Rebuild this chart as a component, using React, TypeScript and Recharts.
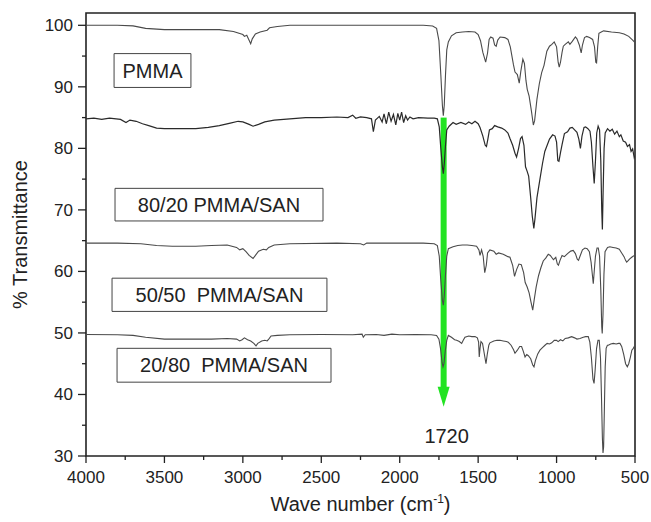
import { LineChart, Line, XAxis, YAxis, ReferenceArea, ReferenceLine } from "recharts";

const FONT = '"Liberation Sans", Arial, Helvetica, sans-serif';
const INK = "#222";

// wavenumber (cm-1) / % transmittance
const pmmaWave = [4000, 3800, 3700, 3620, 3500, 3300, 3150, 3060, 3000, 2990, 2975, 2950, 2940, 2920, 2890, 2845, 2830, 2780, 2700, 2300, 2000, 1850, 1790, 1765, 1750, 1738, 1728, 1722, 1716, 1708, 1700, 1690, 1670, 1640, 1600, 1560, 1520, 1500, 1485, 1470, 1452, 1440, 1430, 1420, 1405, 1395, 1385, 1375, 1360, 1330, 1310, 1295, 1275, 1265, 1250, 1238, 1228, 1215, 1205, 1195, 1187, 1175, 1160, 1148, 1140, 1125, 1110, 1095, 1080, 1062, 1045, 1030, 1015, 1000, 990, 983, 975, 965, 957, 945, 925, 915, 900, 880, 870, 855, 843, 835, 822, 808, 790, 770, 758, 750, 745, 738, 730, 715, 700, 650, 600, 570, 540, 515, 500];
const pmmaT = [100.0, 100.0, 99.9, 99.5, 99.3, 99.3, 99.3, 99.0, 98.5, 98.2, 98.4, 97.0, 97.8, 98.6, 98.9, 99.2, 99.6, 99.8, 100.0, 100.0, 100.0, 100.0, 99.9, 99.5, 97.5, 92.0, 87.0, 85.3, 87.0, 92.0, 96.0, 97.3, 98.3, 98.8, 98.9, 99.0, 98.9, 98.5, 97.5, 95.6, 94.0, 95.5, 97.7, 98.1, 97.9, 96.8, 96.6, 97.6, 98.1, 98.0, 97.7, 96.5, 93.6, 92.4, 92.0, 90.6, 92.5, 94.5, 93.8, 91.0, 89.6, 88.5, 86.0, 83.8, 84.5, 88.0, 90.5, 92.3, 93.5, 95.8, 96.6, 96.9, 97.3, 96.5, 94.0, 93.2, 94.0, 95.6, 96.6, 96.9, 97.3, 96.9, 97.4, 98.1, 97.8, 96.8, 95.5, 96.8, 98.0, 98.2, 98.0, 97.7, 96.5, 94.0, 93.9, 96.5, 98.7, 98.9, 99.1, 98.9, 98.8, 98.6, 98.2, 97.6, 97.2];

const s8020Wave = [4000, 3950, 3900, 3850, 3780, 3745, 3720, 3680, 3640, 3600, 3550, 3500, 3400, 3300, 3220, 3150, 3080, 3030, 3000, 2960, 2935, 2900, 2860, 2800, 2700, 2600, 2500, 2400, 2330, 2300, 2280, 2250, 2210, 2180, 2168, 2155, 2130, 2112, 2100, 2085, 2070, 2055, 2040, 2025, 2012, 2000, 1988, 1975, 1962, 1950, 1935, 1915, 1880, 1820, 1780, 1760, 1748, 1738, 1728, 1722, 1716, 1708, 1700, 1685, 1660, 1640, 1610, 1580, 1560, 1540, 1520, 1500, 1488, 1470, 1455, 1447, 1438, 1428, 1410, 1395, 1375, 1350, 1330, 1310, 1297, 1280, 1265, 1255, 1242, 1230, 1220, 1208, 1198, 1188, 1178, 1165, 1155, 1145, 1138, 1125, 1106, 1090, 1075, 1063, 1045, 1025, 1010, 1000, 992, 985, 975, 965, 950, 930, 915, 900, 885, 870, 858, 848, 838, 825, 815, 800, 787, 778, 768, 760, 752, 744, 735, 726, 718, 712, 708, 704, 697, 690, 675, 660, 645, 630, 615, 600, 590, 575, 560, 548, 535, 525, 515, 505, 500];
const s8020T = [84.8, 84.9, 84.7, 84.9, 84.7, 84.2, 84.6, 84.4, 84.0, 83.7, 83.3, 83.2, 83.2, 83.2, 83.4, 83.7, 84.1, 84.4, 84.3, 83.9, 83.6, 83.9, 84.3, 84.6, 84.8, 85.0, 85.0, 85.1, 85.0, 85.4, 84.9, 85.1, 85.0, 84.8, 82.7, 84.6, 85.2, 84.3, 85.6, 84.0, 85.9, 84.4, 85.5, 83.8, 85.7, 84.6, 85.9, 84.2, 85.3, 84.6, 85.1, 84.8, 85.0, 84.9, 84.9, 84.8, 83.5, 80.0, 77.0, 75.9, 77.5, 80.5, 83.0, 83.6, 84.2, 83.9, 84.2, 83.9, 84.3, 84.0, 84.4, 84.0, 83.4, 82.0, 80.5, 80.3, 81.5, 83.0, 83.2, 83.7, 83.5, 83.3, 83.0, 82.5, 81.6, 80.5, 79.2, 78.6, 80.0, 81.6, 81.9, 80.5, 77.0, 76.3, 75.5, 72.0, 69.0, 67.0, 68.5, 72.0, 75.0, 77.5, 79.5, 80.3, 81.5, 82.2, 82.0, 81.0, 78.0, 77.9, 79.3, 80.6, 82.4, 82.7, 83.3, 83.4, 83.0, 82.6, 81.5, 80.0, 82.0, 83.4, 83.5, 83.2, 82.8, 81.0, 77.0, 74.3, 78.0, 82.5, 83.6, 83.0, 78.0, 70.0, 66.8, 72.0, 80.0, 82.5, 83.2, 82.8, 83.1, 82.3, 82.8, 81.9, 82.2, 81.2, 81.0, 80.3, 80.6, 79.5, 79.9, 78.5, 78.8];

const s5050Wave = [4000, 3800, 3650, 3550, 3450, 3300, 3200, 3100, 3040, 3020, 3000, 2980, 2960, 2935, 2920, 2900, 2870, 2850, 2835, 2800, 2700, 2400, 2250, 2230, 2210, 2000, 1850, 1780, 1760, 1748, 1738, 1728, 1722, 1716, 1708, 1700, 1690, 1660, 1630, 1600, 1570, 1540, 1510, 1495, 1488, 1478, 1468, 1458, 1448, 1440, 1425, 1400, 1385, 1370, 1340, 1310, 1297, 1280, 1268, 1255, 1240, 1225, 1210, 1200, 1188, 1175, 1163, 1152, 1142, 1130, 1115, 1100, 1085, 1068, 1053, 1040, 1020, 1005, 995, 988, 978, 965, 950, 930, 910, 894, 880, 868, 860, 850, 835, 819, 805, 791, 780, 772, 766, 760, 752, 742, 734, 726, 718, 712, 709, 704, 698, 691, 675, 660, 640, 620, 600, 585, 570, 560, 553, 545, 535, 521, 510, 500];
const s5050T = [64.6, 64.6, 64.5, 64.2, 64.1, 64.1, 64.2, 64.3, 63.9, 63.5, 63.7, 63.2, 62.6, 62.1, 62.6, 63.3, 63.6, 63.5, 63.9, 64.3, 64.5, 64.6, 64.5, 64.3, 64.6, 64.6, 64.6, 64.5, 64.2, 62.5, 58.5, 55.3, 54.5, 56.0, 59.5, 62.5, 63.7, 64.0, 64.2, 64.3, 64.3, 64.2, 64.1, 63.5, 62.6, 63.5, 62.5, 59.8, 61.0, 63.0, 63.5, 63.3, 62.8, 63.0, 62.8, 62.4, 62.3, 61.0, 59.2, 60.3, 61.2, 61.1, 59.8, 58.2, 57.5, 56.5, 55.0, 53.7, 55.5, 57.5, 59.3, 60.6, 61.7, 62.2, 62.8, 62.6, 61.9, 62.3, 61.2, 61.0, 61.8, 62.6, 62.4, 62.9, 63.3, 63.4, 62.9, 62.0, 61.8, 62.5, 63.5, 63.8, 63.7, 63.2, 61.5, 59.5, 58.0, 60.0, 62.5, 63.8, 63.8, 62.5, 57.0, 51.0, 49.9, 53.0, 59.5, 63.2, 63.9, 64.0, 63.9, 63.8, 63.6, 63.0, 62.4, 61.8, 61.5, 61.7, 62.0, 62.3, 62.5, 62.6];

const s2080Wave = [4000, 3800, 3700, 3620, 3500, 3350, 3200, 3100, 3040, 3020, 3005, 2990, 2970, 2950, 2930, 2916, 2905, 2880, 2860, 2845, 2835, 2820, 2780, 2700, 2500, 2300, 2240, 2232, 2220, 2150, 2100, 2050, 2000, 1900, 1800, 1765, 1750, 1740, 1730, 1724, 1718, 1710, 1700, 1690, 1670, 1650, 1637, 1620, 1605, 1595, 1584, 1560, 1540, 1520, 1505, 1497, 1493, 1488, 1482, 1472, 1460, 1450, 1442, 1432, 1425, 1400, 1380, 1361, 1340, 1320, 1308, 1290, 1275, 1265, 1250, 1235, 1223, 1212, 1201, 1190, 1180, 1165, 1152, 1144, 1135, 1120, 1106, 1090, 1074, 1060, 1045, 1031, 1015, 1000, 990, 975, 960, 945, 925, 904, 885, 870, 851, 830, 815, 798, 788, 778, 768, 761, 754, 745, 736, 728, 720, 714, 708, 704, 700, 695, 690, 684, 676, 670, 655, 638, 620, 605, 596, 585, 572, 560, 549, 540, 530, 520, 511, 500];
const s2080T = [49.75, 49.7, 49.6, 49.3, 49.0, 49.0, 49.0, 49.1, 49.0, 48.7, 48.9, 49.2, 48.9, 48.7, 48.3, 47.9, 48.3, 48.7, 48.8, 48.7, 49.0, 49.5, 49.6, 49.7, 49.75, 49.7, 49.8, 49.3, 49.7, 49.75, 49.6, 49.8, 49.7, 49.75, 49.7, 49.6, 49.0, 47.5, 45.2, 44.5, 45.0, 47.0, 48.8, 49.6, 49.3, 48.9, 48.8, 48.6, 48.3, 48.8, 49.3, 49.5, 49.4, 49.4, 49.2, 48.5, 46.1, 47.5, 48.6, 48.3, 46.5, 45.0, 46.5, 48.0, 48.4, 48.7, 48.8, 48.8, 48.7, 48.6, 48.5, 48.0, 47.3, 46.7, 47.2, 47.8, 47.8, 47.0, 46.1, 46.5, 46.3, 45.8, 44.8, 44.5, 45.5, 46.6, 47.2, 47.6, 48.0, 48.3, 48.2, 48.4, 48.8, 48.8, 48.6, 48.9, 48.7, 49.1, 49.2, 49.4, 49.2, 49.0, 49.1, 49.3, 49.4, 49.4, 48.5, 46.0, 42.5, 41.8, 44.0, 47.5, 48.8, 48.8, 46.0, 40.0, 33.0, 30.5, 31.5, 38.0, 44.5, 47.5, 48.0, 48.0, 48.2, 48.3, 48.2, 48.3, 48.3, 47.8, 46.5, 45.0, 44.5, 45.0, 46.0, 47.2, 47.5, 48.0];

const xTicks = [4000, 3750, 3500, 3250, 3000, 2750, 2500, 2250, 2000, 1750, 1500, 1250, 1000, 750, 500];
const yTicks = [30, 35, 40, 45, 50, 55, 60, 65, 70, 75, 80, 85, 90, 95, 100];

// sample labels: text, wavenumber span, transmittance span of the box
const boxLabels = ["PMMA", "80/20 PMMA/SAN", "50/50  PMMA/SAN", "20/80  PMMA/SAN"];
const boxWave = [[3821, 3331], [3815, 2489], [3834, 2464], [3802, 2438]];
const boxT = [[95.4, 89.9], [73.5, 68.2], [58.9, 53.5], [47.5, 42.0]];

const peakWave = 1720;
const arrowFrom = 85.0;
const arrowTo = 38.0;

const toRows = (w: number[], t: number[]) => w.map((x, i) => ({ w: x, t: t[i] }));

const series = [
  { name: "PMMA", data: toRows(pmmaWave, pmmaT), color: "#4a4a4a", width: 1.1 },
  { name: "80/20", data: toRows(s8020Wave, s8020T), color: "#2a2a2a", width: 1.2 },
  { name: "50/50", data: toRows(s5050Wave, s5050T), color: "#4a4a4a", width: 1.1 },
  { name: "20/80", data: toRows(s2080Wave, s2080T), color: "#4a4a4a", width: 1.1 },
];

function XTick({ x, y, payload }: any) {
  const major = payload.value % 500 === 0;
  return (
    <g>
      <line x1={x} y1={y} x2={x} y2={y + (major ? 7 : 4)} stroke={INK} strokeWidth={1.3} />
      {major && (
        <text x={x} y={y + 27} textAnchor="middle" fontSize={17} fontFamily={FONT} fill={INK}>
          {payload.value}
        </text>
      )}
    </g>
  );
}

function YTick({ x, y, payload }: any) {
  const major = payload.value % 10 === 0;
  return (
    <g>
      <line x1={x - (major ? 8 : 4)} y1={y} x2={x} y2={y} stroke={INK} strokeWidth={1.3} />
      {major && (
        <text x={x - 13} y={y + 6} textAnchor="end" fontSize={17} fontFamily={FONT} fill={INK}>
          {payload.value}
        </text>
      )}
    </g>
  );
}

function Arrow(p: any) {
  const { x1, y1, x2, y2 } = p;
  const head = 20;
  return (
    <g>
      <rect x={x1 - 3} y={y1} width={6} height={y2 - y1 - head + 1} fill="#22e322" />
      <polygon points={`${x2 - 6},${y2 - head} ${x2 + 6},${y2 - head} ${x2},${y2}`} fill="#22e322" />
      <text x={x2 + 3} y={y2 + 36} textAnchor="middle" fontSize={20} fontFamily={FONT} fill={INK}>
        {peakWave}
      </text>
    </g>
  );
}

export default function App() {
  return (
    <div style={{ position: "absolute", left: 0, top: 0, background: "#fff" }}>
      <LineChart width={651} height={522} margin={{ top: 13, right: 16, left: 26, bottom: 26 }}>
        <XAxis
          dataKey="w"
          type="number"
          domain={[500, 4000]}
          reversed
          ticks={xTicks}
          interval={0}
          allowDataOverflow
          axisLine={false}
          tickLine={false}
          tickSize={0}
          tickMargin={0}
          tick={<XTick />}
          height={40}
          label={{
            content: ({ viewBox }: any) => (
              <text
                x={viewBox.x + viewBox.width / 2}
                y={viewBox.y + 55}
                textAnchor="middle"
                fontSize={20}
                fontFamily={FONT}
                fill={INK}
              >
                Wave number (cm
                <tspan dy={-8} fontSize={12}>-1</tspan>
                <tspan dy={8}>)</tspan>
              </text>
            ),
          }}
        />
        <YAxis
          type="number"
          domain={[30, 102]}
          ticks={yTicks}
          interval={0}
          allowDataOverflow
          axisLine={false}
          tickLine={false}
          tickSize={0}
          tickMargin={0}
          tick={<YTick />}
          width={60}
          label={{
            content: ({ viewBox }: any) => {
              const cx = viewBox.x + 1;
              const cy = viewBox.y + viewBox.height / 2;
              return (
                <text
                  x={cx}
                  y={cy}
                  transform={`rotate(-90 ${cx} ${cy})`}
                  textAnchor="middle"
                  fontSize={20}
                  fontFamily={FONT}
                  fill={INK}
                >
                  % Transmittance
                </text>
              );
            },
          }}
        />
        <ReferenceArea x1={4000} x2={500} y1={30} y2={102} fill="none" stroke={INK} strokeWidth={1.6} />
        {boxLabels.map((label, i) => (
          <ReferenceArea
            key={label}
            x1={boxWave[i][0]}
            x2={boxWave[i][1]}
            y1={boxT[i][1]}
            y2={boxT[i][0]}
            fill="#fff"
            fillOpacity={1}
            stroke="#444"
            strokeWidth={1}
            label={{
              content: ({ viewBox }: any) => (
                <text
                  x={viewBox.x + viewBox.width / 2}
                  y={viewBox.y + viewBox.height / 2 + 7}
                  textAnchor="middle"
                  fontSize={20}
                  fontFamily={FONT}
                  fill={INK}
                  style={{ whiteSpace: "pre" }}
                >
                  {label}
                </text>
              ),
            }}
          />
        ))}
        <ReferenceLine
          segment={[
            { x: peakWave, y: arrowFrom },
            { x: peakWave, y: arrowTo },
          ]}
          shape={<Arrow />}
        />
        {series.map((s) => (
          <Line
            key={s.name}
            data={s.data}
            dataKey="t"
            type="linear"
            stroke={s.color}
            strokeWidth={s.width}
            dot={false}
            activeDot={false}
            isAnimationActive={false}
          />
        ))}
      </LineChart>
    </div>
  );
}
